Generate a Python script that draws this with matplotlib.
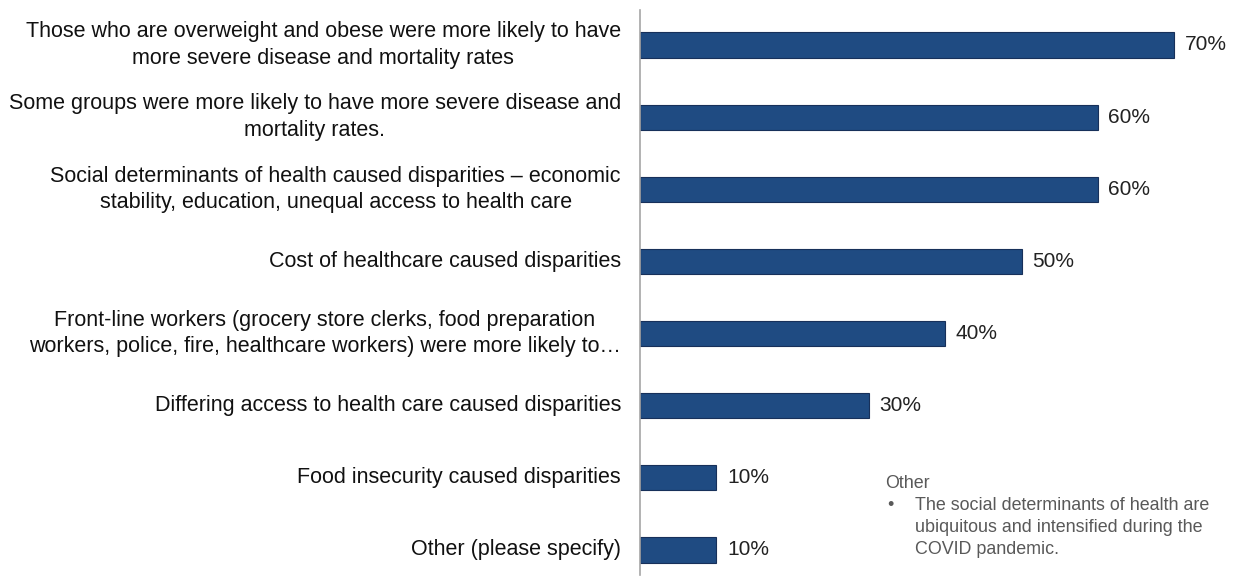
import matplotlib
matplotlib.use('Agg')
from matplotlib import pyplot as plt
import matplotlib.transforms as mtransforms

plt.rcParams['font.family'] = ['Liberation Sans', 'DejaVu Sans']

labels = [
    'Those who are overweight and obese were more likely to have\nmore severe disease and mortality rates',
    'Some groups were more likely to have more severe disease and\nmortality rates.',
    'Social determinants of health caused disparities \u2013 economic\nstability, education, unequal access to health care',
    'Cost of healthcare caused disparities',
    'Front-line workers (grocery store clerks, food preparation\nworkers, police, fire, healthcare workers) were more likely to\u2026',
    'Differing access to health care caused disparities',
    'Food insecurity caused disparities',
    'Other (please specify)',
]
values = [70, 60, 60, 50, 40, 30, 10, 10]
note_title = 'Other'
note_lines = ['The social determinants of health are',
              'ubiquitous and intensified during the',
              'COVID pandemic.']

W, H = 1238, 583
fig = plt.figure(figsize=(W / 100, H / 100), dpi=100)
ax = fig.add_axes([640 / W, 8 / H, (W - 640) / W, 565 / H])

y = list(range(len(values)))
ax.barh(y, values, height=0.35, color='#1f4b82', edgecolor='#17305a', linewidth=0.8)
ax.set_xlim(0, (W - 640) / 7.63)
ax.set_ylim(7.347, -0.485)

for yi, v in zip(y, values):
    ax.text(v + 1.4, yi, f'{v}%', va='center', ha='left', fontsize=15, color='#222222')

# category labels, right aligned left of the axis
trans = mtransforms.blended_transform_factory(fig.transFigure, ax.transData)
for yi, lab in zip(y, labels):
    ax.text(621 / W, yi, lab, transform=trans, ha='right', va='center',
            multialignment='center', fontsize=15.5, linespacing=1.33, color='#111111')

for s in ['top', 'right', 'bottom']:
    ax.spines[s].set_visible(False)
ax.spines['left'].set_color('#a6a6a6')
ax.spines['left'].set_linewidth(1.2)
ax.set_xticks([])
ax.set_yticks([])

# "Other" note
grey = '#595959'
fig.text(885 / W, 1 - 483 / H, note_title, ha='left', va='center', fontsize=12.9, color=grey)
fig.text(887 / W, 1 - 505 / H, '\u2022', ha='left', va='center', fontsize=12.9, color=grey)
for i, line in enumerate(note_lines):
    fig.text(915 / W, 1 - (505 + 22 * i) / H, line, ha='left', va='center',
             fontsize=12.9, color=grey)

fig.savefig('out.png', dpi=100)
